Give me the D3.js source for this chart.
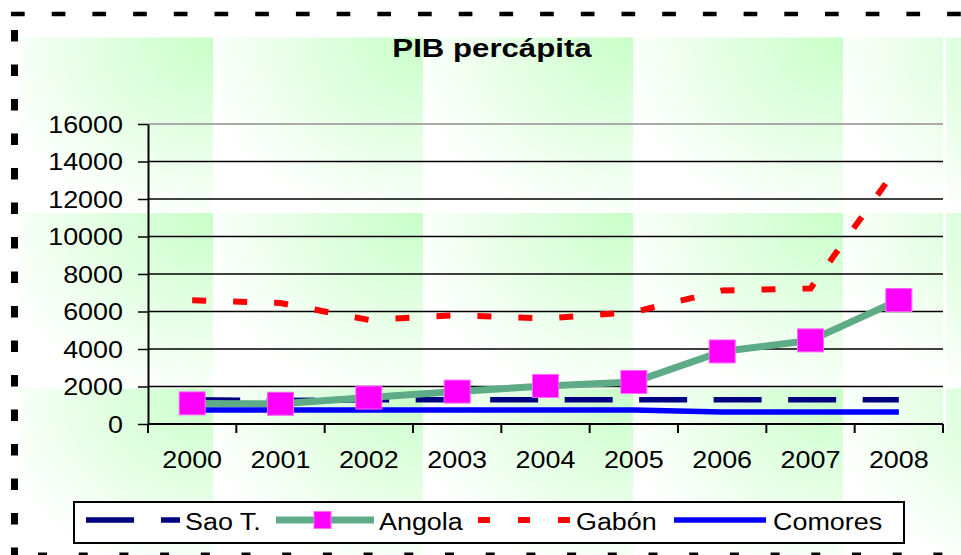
<!DOCTYPE html>
<html>
<head>
<meta charset="utf-8">
<script src="https://cdn.jsdelivr.net/npm/d3@7"></script>
<style>
  html, body { margin: 0; padding: 0; background: #fff; }
  svg { display: block; font-family: "Liberation Sans", Arial, sans-serif; }
</style>
</head>
<body>
<svg width="961" height="555"></svg>
<script>
// data
const years = ["2000", "2001", "2002", "2003", "2004", "2005", "2006", "2007", "2008"];
const saoT = [1300, 1250, 1290, 1300, 1290, 1290, 1290, 1290, 1290];
const angola = [1100, 1080, 1410, 1730, 2030, 2240, 3870, 4460, 6610];
const gabon = [6600, 6450, 5550, 5800, 5620, 5970, 7120, 7230, 13800];
const comores = [750, 750, 750, 750, 750, 745, 640, 640, 640];
const yTicks = [0, 2000, 4000, 6000, 8000, 10000, 12000, 14000, 16000];
const seriesNames = ["Sao T.", "Angola", "Gabón", "Comores"];

const svg = d3.select("svg");
const SX = 1.17; // the original picture is stretched a bit horizontally

const plot = { left: 148, right: 943, top: 124, bottom: 424 };

// background tiles
const defs = svg.append("defs");
const grad = defs.append("radialGradient")
  .attr("id", "tileGrad")
  .attr("cx", 1).attr("cy", 0).attr("r", 1.1)
  .attr("fx", 1).attr("fy", 0);
grad.append("stop").attr("offset", 0).attr("stop-color", "#c8ffc8");
grad.append("stop").attr("offset", 1).attr("stop-color", "#ffffff");

const pattern = defs.append("pattern")
  .attr("id", "tile")
  .attr("patternUnits", "userSpaceOnUse")
  .attr("x", 3).attr("y", 37.5)
  .attr("width", 210).attr("height", 175.5);
pattern.append("rect")
  .attr("width", 210).attr("height", 175.5)
  .attr("fill", "url(#tileGrad)");

svg.append("rect")
  .attr("x", 20).attr("y", 37)
  .attr("width", 941).attr("height", 518)
  .attr("fill", "url(#tile)");

svg.append("rect")
  .attr("x", 943).attr("y", 37)
  .attr("width", 3).attr("height", 393)
  .attr("fill", "#fff");

// dashed outer border
svg.append("line")
  .attr("x1", 11).attr("x2", 961).attr("y1", 14).attr("y2", 14)
  .attr("stroke", "#000").attr("stroke-width", 4.5)
  .attr("stroke-dasharray", "13.7 27");
svg.append("line")
  .attr("x1", 14.5).attr("x2", 14.5).attr("y1", 30).attr("y2", 555)
  .attr("stroke", "#000").attr("stroke-width", 7)
  .attr("stroke-dasharray", "11.5 23");
svg.append("line")
  .attr("x1", 38).attr("x2", 961).attr("y1", 555).attr("y2", 555)
  .attr("stroke", "#000").attr("stroke-width", 5)
  .attr("stroke-dasharray", "9 31.7");

// title
svg.append("text")
  .attr("transform", `translate(492,57) scale(1.2,1)`)
  .attr("text-anchor", "middle")
  .attr("font-weight", "bold")
  .attr("font-size", 26)
  .text("PIB percápita");

// scales
const x = d3.scaleBand().domain(years).range([plot.left, plot.right]).padding(0);
const y = d3.scaleLinear().domain([0, 16000]).range([plot.bottom, plot.top]);
const cx = (d) => x(d) + x.bandwidth() / 2;

// gridlines
svg.append("g")
  .selectAll("line")
  .data(yTicks.filter((t) => t > 0))
  .join("line")
  .attr("x1", plot.left).attr("x2", plot.right)
  .attr("y1", (d) => y(d)).attr("y2", (d) => y(d))
  .attr("stroke", (d) => d === 16000 ? "#aaa" : "#000")
  .attr("stroke-width", (d) => d === 16000 ? 2 : 1.5);

// y axis
const yAxisG = svg.append("g")
  .attr("transform", `translate(${plot.left},0)`)
  .call(d3.axisLeft(y).tickValues(yTicks).tickSize(10).tickSizeOuter(0).tickFormat((d) => d));
yAxisG.select(".domain").attr("stroke", "#000").attr("stroke-width", 2);
yAxisG.selectAll(".tick line").attr("stroke", "#000").attr("stroke-width", 1.5);
yAxisG.selectAll(".tick text")
  .attr("x", null).attr("dy", null)
  .attr("transform", `translate(-25,8.3) scale(${SX},1)`)
  .attr("font-size", 23)
  .attr("font-family", "'Liberation Sans', Arial, sans-serif")
  .attr("fill", "#000");

// x axis
const xAxisG = svg.append("g")
  .attr("transform", `translate(0,${plot.bottom})`)
  .call(d3.axisBottom(x).tickSize(0).tickSizeOuter(0));
xAxisG.select(".domain").remove();
xAxisG.selectAll(".tick text")
  .attr("y", null).attr("dy", null)
  .attr("transform", `translate(0,44) scale(${SX},1)`)
  .attr("font-size", 23)
  .attr("font-family", "'Liberation Sans', Arial, sans-serif")
  .attr("fill", "#000");
xAxisG.append("line")
  .attr("x1", plot.left).attr("x2", plot.right)
  .attr("stroke", "#000").attr("stroke-width", 2);
xAxisG.selectAll(".bound")
  .data(years.map((d) => x(d)).concat([plot.right]))
  .join("line")
  .attr("class", "bound")
  .attr("x1", (d) => d).attr("x2", (d) => d)
  .attr("y1", 0).attr("y2", 9)
  .attr("stroke", "#000").attr("stroke-width", 2);

// series lines
const line = d3.line().x((d) => cx(d.year)).y((d) => y(d.value));
const toPts = (arr) => years.map((yr, i) => ({ year: yr, value: arr[i] }));

svg.append("path")
  .datum(toPts(saoT))
  .attr("d", line)
  .attr("fill", "none")
  .attr("stroke", "#000080")
  .attr("stroke-width", 5.5)
  .attr("stroke-dasharray", "48 26.5");

svg.append("path")
  .datum(toPts(angola))
  .attr("d", line)
  .attr("fill", "none")
  .attr("stroke", "#5eac87")
  .attr("stroke-width", 7);

svg.append("path")
  .datum(toPts(gabon))
  .attr("d", line)
  .attr("fill", "none")
  .attr("stroke", "#ff0000")
  .attr("stroke-width", 6)
  .attr("stroke-dasharray", "14 27");

svg.append("path")
  .datum(toPts(comores))
  .attr("d", line)
  .attr("fill", "none")
  .attr("stroke", "#0000ff")
  .attr("stroke-width", 5.5);

// Angola markers
svg.append("g")
  .selectAll("rect")
  .data(toPts(angola))
  .join("rect")
  .attr("x", (d) => cx(d.year) - 13)
  .attr("y", (d) => y(d.value) - 11.5)
  .attr("width", 26).attr("height", 23)
  .attr("fill", "#ff00ff")
  .attr("stroke", "#ff66ff")
  .attr("stroke-width", 1);

// legend
const legend = svg.append("g");
legend.append("rect")
  .attr("x", 74).attr("y", 502)
  .attr("width", 830).attr("height", 41)
  .attr("fill", "#fff")
  .attr("stroke", "#000").attr("stroke-width", 2);

const legY = 520;
legend.append("line")
  .attr("x1", 86).attr("x2", 180).attr("y1", legY).attr("y2", legY)
  .attr("stroke", "#000080").attr("stroke-width", 5.5)
  .attr("stroke-dasharray", "48 27");
legend.append("line")
  .attr("x1", 276).attr("x2", 374).attr("y1", legY).attr("y2", legY)
  .attr("stroke", "#5eac87").attr("stroke-width", 7);
legend.append("rect")
  .attr("x", 314).attr("y", legY - 8.5)
  .attr("width", 17).attr("height", 17)
  .attr("fill", "#ff00ff").attr("stroke", "#ff66ff");
legend.append("line")
  .attr("x1", 478).attr("x2", 571).attr("y1", legY).attr("y2", legY)
  .attr("stroke", "#ff0000").attr("stroke-width", 6)
  .attr("stroke-dasharray", "12 28");
legend.append("line")
  .attr("x1", 674).attr("x2", 766).attr("y1", legY).attr("y2", legY)
  .attr("stroke", "#0000ff").attr("stroke-width", 5.5);

const labelX = [185, 379, 576, 773];
legend.selectAll("text")
  .data(seriesNames)
  .join("text")
  .attr("transform", (d, i) => `translate(${labelX[i]},530) scale(${SX},1)`)
  .attr("font-size", 23)
  .attr("fill", "#000")
  .text((d) => d);
</script>
</body>
</html>
